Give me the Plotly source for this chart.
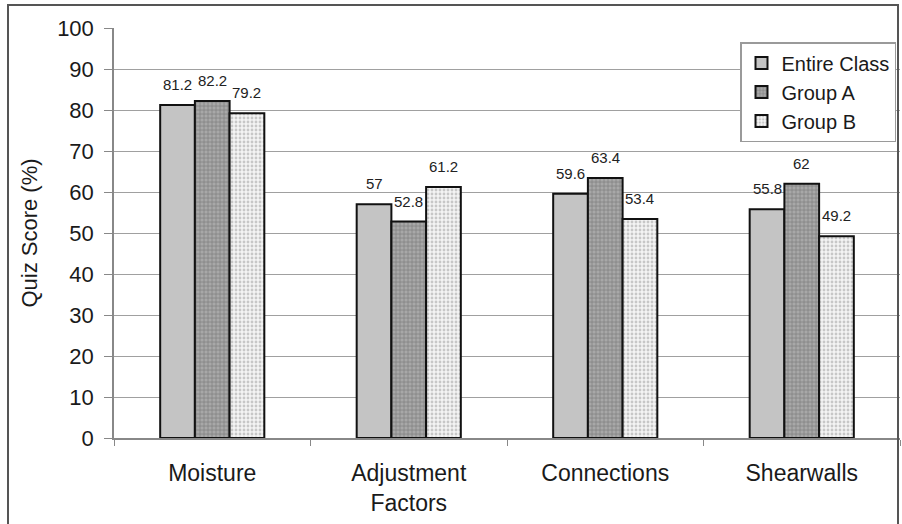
import plotly.graph_objects as go

categories = ["Moisture", "Adjustment<br>Factors", "Connections", "Shearwalls"]
entire_class = [81.2, 57, 59.6, 55.8]
group_a = [82.2, 52.8, 63.4, 62]
group_b = [79.2, 61.2, 53.4, 49.2]
y_ticks = list(range(0, 101, 10))

W, H = 902, 524
ML, MR, MT, MB = 114, 2, 28, 86
PW, PH = W - ML - MR, H - MT - MB
BARGAP = 0.47

font_family = "Liberation Sans, Arial, sans-serif"

series = [
    ("Entire Class", entire_class, dict(color="#c4c4c4")),
    ("Group A", group_a, dict(color="#8a8a8a",
                              pattern=dict(shape="+", fgcolor="#5a5a5a", bgcolor="#a8a8a8",
                                           size=4, solidity=0.35))),
    ("Group B", group_b, dict(color="#f2f2f2",
                              pattern=dict(shape=".", fgcolor="#9a9a9a", bgcolor="#f4f4f4",
                                           size=4, solidity=0.4))),
]

fig = go.Figure()
# bar width in pixels, used to centre value labels over each bar in a group
bar_px = PW / len(categories) * (1 - BARGAP) / len(series)
annotations = []
for i, (name, vals, marker) in enumerate(series):
    marker = dict(marker, line=dict(color="#111111", width=2))
    fig.add_trace(go.Bar(name=name, x=categories, y=vals, marker=marker))
    for cat, v in zip(categories, vals):
        annotations.append(dict(
            x=cat, y=v, xref="x", yref="y", text=f"{v:g}", showarrow=False,
            xanchor="center", yanchor="bottom",
            xshift=(i - 1) * bar_px, yshift=10,
            font=dict(size=15, color="#222222", family=font_family),
        ))


def px_x(p):
    return (p - ML) / PW


def px_y(p):
    return 1 - (p - MT) / PH


fig.update_layout(
    width=W, height=H,
    margin=dict(l=ML, r=MR, t=MT, b=MB),
    barmode="group", bargap=BARGAP, bargroupgap=0,
    plot_bgcolor="white", paper_bgcolor="white",
    font=dict(family=font_family, size=22, color="#1a1a1a"),
    showlegend=True,
    legend=dict(
        x=px_x(740), y=px_y(42), xanchor="left", yanchor="top",
        bgcolor="white", bordercolor="#9a9a9a", borderwidth=1.5,
        font=dict(size=20, color="#1a1a1a"),
        tracegroupgap=0, itemwidth=30,
        traceorder="normal",
    ),
    xaxis=dict(
        showline=True, linecolor="#888888", linewidth=1.5,
        ticks="outside", tickson="boundaries", ticklen=6, tickcolor="#888888",
        ticklabelstandoff=14, tickfont=dict(size=23),
        showgrid=False,
    ),
    yaxis=dict(
        range=[0, 100], tickvals=y_ticks,
        showline=True, linecolor="#888888", linewidth=1.5,
        ticks="outside", ticklen=8, tickcolor="#888888",
        ticklabelstandoff=6,
        showgrid=True, gridcolor="#a0a0a0", gridwidth=1,
        tickfont=dict(size=22),
        title=dict(text="Quiz Score (%)", font=dict(size=22), standoff=13),
        zeroline=False,
    ),
    annotations=annotations,
    shapes=[dict(
        type="path", xref="paper", yref="paper",
        path=f"M {px_x(8)},{px_y(560)} L {px_x(8)},{px_y(5)} L {px_x(898)},{px_y(5)} L {px_x(898)},{px_y(560)}",
        line=dict(color="#555555", width=2),
    )],
)

fig.write_html("out.html")
